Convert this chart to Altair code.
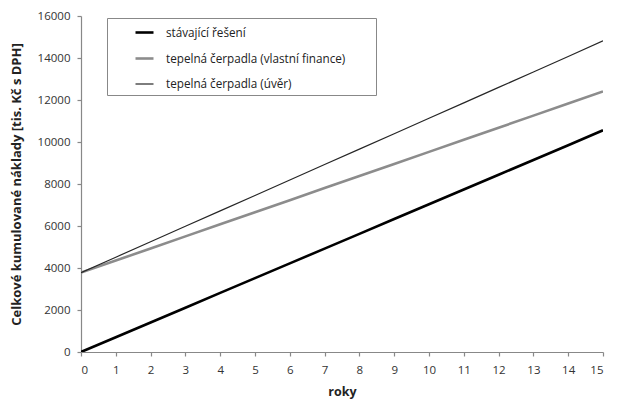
import altair as alt
import pandas as pd

years = list(range(16))
series_names = ["stávající řešení", "tepelná čerpadla (vlastní finance)", "tepelná čerpadla (úvěr)"]
stavajici = [0, 703, 1407, 2110, 2813, 3517, 4220, 4923, 5627, 6330, 7033, 7737, 8440, 9143, 9847, 10560]
vlastni = [3780, 4355, 4930, 5505, 6080, 6655, 7230, 7805, 8380, 8955, 9530, 10105, 10680, 11255, 11830, 12410]
uver = [3780, 4515, 5250, 5985, 6720, 7455, 8190, 8925, 9660, 10395, 11130, 11865, 12600, 13335, 14070, 14820]
colors = ["#000000", "#8c8c8c", "#262626"]
widths = [2.6, 2.6, 1.2]
y_ticks = [0, 2000, 4000, 6000, 8000, 10000, 12000, 14000, 16000]

rows = []
for name, vals in zip(series_names, [stavajici, vlastni, uver]):
    for yr, v in zip(years, vals):
        rows.append({"rok": yr, "hodnota": v, "serie": name})
df = pd.DataFrame(rows)

FONT = "Open Sans"

legend = alt.Legend(title=" ", titleOrient="right", titlePadding=27,
                    orient="none", legendX=26, legendY=2,
                    symbolType="stroke", symbolSize=324,
                    symbolOffset=23, labelOffset=11,
                    rowPadding=8, padding=4, labelLimit=400,
                    strokeColor="#888888", fillColor="white",
                    labelFontSize=11.7, labelFont=FONT,
                    labelColor="#222222", cornerRadius=0)

chart = alt.Chart(df).mark_line(clip=True).encode(
    x=alt.X("rok:Q", title="roky",
            scale=alt.Scale(domain=[0, 15], nice=False, zero=False),
            axis=alt.Axis(values=years, grid=False, tickSize=4, labelPadding=8,
                          titlePadding=10, labelFontSize=11.5, titleFontSize=12.5)),
    y=alt.Y("hodnota:Q", title="Celkové kumulované náklady [tis. Kč s DPH]",
            scale=alt.Scale(domain=[0, 16000], nice=False),
            axis=alt.Axis(values=y_ticks, format="d", grid=False, tickSize=4, labelPadding=7,
                          titlePadding=14, labelFontSize=11.5, titleFontSize=13)),
    color=alt.Color("serie:O", sort=series_names,
                    scale=alt.Scale(type="ordinal", domain=series_names, range=colors),
                    legend=legend),
    strokeWidth=alt.StrokeWidth("serie:O", sort=series_names,
                                scale=alt.Scale(type="ordinal", domain=series_names, range=widths),
                                legend=legend),
    order=alt.Order("rok:Q"),
).properties(
    width=522, height=336,
    autosize=alt.AutoSizeParams(type="none"),
    padding={"left": 73, "top": 8, "right": 24, "bottom": 48},
).configure_view(stroke=None).configure_axis(
    labelFont=FONT, titleFont=FONT, labelColor="#333333", titleColor="#222222",
    titleFontWeight="bold", domainColor="#888888", tickColor="#888888",
    domainWidth=1.2, tickWidth=1.2,
)

chart.save("out.html", embed_options={"renderer": "svg", "actions": False})
